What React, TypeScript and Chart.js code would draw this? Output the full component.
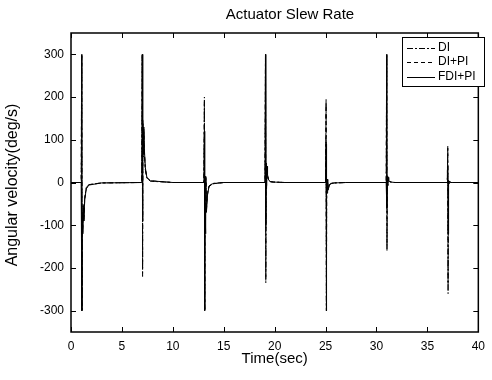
import React, { useEffect, useRef } from "react";
import { Chart, registerables } from "chart.js";

Chart.register(...registerables);

const chartTitle = "Actuator Slew Rate";
const xTitle = "Time(sec)";
const yTitle = "Angular velocity(deg/s)";
const seriesLabels = ["DI", "DI+PI", "FDI+PI"];
const xTicks = [0, 5, 10, 15, 20, 25, 30, 35, 40];
const yTicks = [-300, -200, -100, 0, 100, 200, 300];

const timeSec = [
  0,
  1.0, 1.05, 1.08, 1.11, 1.15, 1.2, 1.26, 1.35, 1.5, 1.75, 3.0,
  6.95, 7.0, 7.03, 7.06, 7.1, 7.15, 7.2, 7.3, 7.45, 7.8, 10.0,
  13.05, 13.1, 13.13, 13.16, 13.2, 13.25, 13.3, 13.4, 13.55, 13.9, 15.0,
  19.05, 19.1, 19.13, 19.16, 19.2, 19.25, 19.3, 19.4, 19.55, 19.9, 21.0,
  25.0, 25.05, 25.08, 25.11, 25.15, 25.2, 25.25, 25.35, 25.5, 25.85, 27.0,
  30.95, 31.0, 31.03, 31.06, 31.1, 31.15, 31.2, 31.3, 31.45, 31.8, 33.0,
  36.95, 37.0, 37.03, 37.06, 37.1, 37.15, 37.2, 37.3, 37.45, 37.8, 39.0,
  40,
];

const rateDI = [
  0,
  0, 300, -300, -70, -110, -50, -80, -35, -12, -5, -1,
  0, 300, -220, 140, 60, 120, 70, 30, 10, 3, 0,
  0, 200, -300, -50, -110, 10, -60, -25, -8, -2, 0,
  0, 300, -235, 40, -10, 35, 15, 6, 2, 1, 0,
  0, 195, -300, -8, -20, 6, -15, -6, -2, -1, 0,
  0, 300, -160, 12, -6, 10, 4, 2, 1, 0, 0,
  0, 85, -260, 4, -3, 2, 1, 0, 0, 0, 0,
  0,
];

const rateDIPI = [
  0,
  0, 300, -300, -75, -115, -55, -85, -38, -14, -5, -1,
  0, 300, -200, 145, 65, 125, 75, 32, 11, 4, 0,
  0, 190, -300, -55, -115, 12, -65, -28, -9, -3, 0,
  0, 300, -220, 42, -12, 36, 16, 6, 2, 1, 0,
  0, 180, -300, -9, -22, 7, -16, -7, -2, -1, 0,
  0, 300, -150, 13, -7, 11, 4, 2, 1, 0, 0,
  0, 80, -240, 4, -3, 2, 1, 0, 0, 0, 0,
  0,
];

const rateFDIPI = [
  0,
  0, 300, -300, -80, -120, -60, -90, -40, -15, -6, -1,
  0, 300, -90, 150, 70, 130, 80, 35, 12, 4, 0,
  0, 120, -300, -60, -120, 15, -70, -30, -10, -3, 0,
  0, 300, -100, 45, -15, 38, 18, 7, 2, 1, 0,
  0, 90, -300, -10, -25, 8, -18, -8, -3, -1, 0,
  0, 300, -60, 15, -8, 12, 5, 2, 1, 0, 0,
  0, 40, -120, 5, -4, 3, 1, 0, 0, 0, 0,
  0,
];

const seriesValues = [rateDI, rateDIPI, rateFDIPI];
const seriesDash = [[6, 2, 2, 2], [4, 3], []];
const FONT = '"Liberation Sans", Arial, Helvetica, sans-serif';

const framePlugin = {
  id: "matlabFrame",
  afterDraw(chart: any) {
    const { ctx, chartArea, scales } = chart;
    const { left, right, top, bottom } = chartArea;
    const xs = scales.x;
    const ys = scales.y;
    ctx.save();
    ctx.strokeStyle = "#000";
    ctx.lineWidth = 1;
    const tl = 5;
    ctx.beginPath();
    xTicks.forEach((v) => {
      const px = Math.round(xs.getPixelForValue(v)) + 0.5;
      ctx.moveTo(px, bottom);
      ctx.lineTo(px, bottom - tl);
      ctx.moveTo(px, top);
      ctx.lineTo(px, top + tl);
    });
    yTicks.forEach((v) => {
      const py = Math.round(ys.getPixelForValue(v)) + 0.5;
      ctx.moveTo(left, py);
      ctx.lineTo(left + tl, py);
      ctx.moveTo(right, py);
      ctx.lineTo(right - tl, py);
    });
    ctx.stroke();
    ctx.lineWidth = 1.5;
    ctx.strokeRect(left, top, right - left, bottom - top);

    // Legend
    const bx = 402, by = 37, bw = 82, bh = 49;
    ctx.fillStyle = "#fff";
    ctx.fillRect(bx, by, bw, bh);
    ctx.lineWidth = 1;
    ctx.strokeRect(bx + 0.5, by + 0.5, bw, bh);
    ctx.font = `12px ${FONT}`;
    ctx.textBaseline = "middle";
    ctx.textAlign = "left";
    const rows = [48, 62, 77];
    chart.data.datasets.forEach((ds: any, i: number) => {
      const yy = rows[i] + 0.5;
      ctx.beginPath();
      ctx.setLineDash(ds.borderDash || []);
      ctx.moveTo(407, yy);
      ctx.lineTo(435, yy);
      ctx.stroke();
      ctx.setLineDash([]);
      ctx.fillStyle = "#000";
      ctx.fillText(ds.label, 438, rows[i]);
    });

    // Titles
    ctx.fillStyle = "#000";
    ctx.textAlign = "center";
    ctx.font = `15px ${FONT}`;
    ctx.fillText(chartTitle, 290, 15);
    ctx.fillText(xTitle, (left + right) / 2, 359);
    ctx.translate(13, 185);
    ctx.rotate(-Math.PI / 2);
    ctx.font = `16px ${FONT}`;
    ctx.fillText(yTitle, 0, 0);
    ctx.restore();
  },
};

export default function App() {
  const ref = useRef<HTMLCanvasElement | null>(null);
  useEffect(() => {
    if (!ref.current) return;
    const chart = new Chart(ref.current, {
      type: "line",
      data: {
        datasets: seriesLabels.map((label, i) => ({
          label,
          data: timeSec.map((t, j) => ({ x: t, y: seriesValues[i][j] })),
          borderColor: "#000",
          backgroundColor: "#000",
          borderWidth: 1,
          borderDash: seriesDash[i],
          pointRadius: 0,
          tension: 0,
          fill: false,
        })),
      },
      options: {
        responsive: false,
        animation: false,
        layout: { padding: { top: 33, right: 5, bottom: 0, left: 0 }, autoPadding: false },
        plugins: { legend: { display: false }, title: { display: false }, tooltip: { enabled: false } },
        scales: {
          x: {
            type: "linear",
            min: 0,
            max: 40,
            grid: { display: false, drawTicks: false },
            border: { display: false },
            afterBuildTicks: (s: any) => { s.ticks = xTicks.map((v) => ({ value: v })); },
            afterFit: (s: any) => { s.height = 48; },
            ticks: { color: "#000", padding: 7, maxRotation: 0, font: { size: 12, family: FONT } },
          },
          y: {
            type: "linear",
            min: -350,
            max: 350,
            grid: { display: false, drawTicks: false },
            border: { display: false },
            afterBuildTicks: (s: any) => { s.ticks = yTicks.map((v) => ({ value: v })); },
            afterFit: (s: any) => { s.width = 71; },
            ticks: { color: "#000", padding: 7, font: { size: 12, family: FONT } },
          },
        },
      },
      plugins: [framePlugin],
    });
    return () => chart.destroy();
  }, []);
  return (
    <div style={{ position: "absolute", left: 0, top: 0, width: 492, height: 380, background: "#fff" }}>
      <canvas ref={ref} width={492} height={380} style={{ width: 492, height: 380 }} />
    </div>
  );
}
